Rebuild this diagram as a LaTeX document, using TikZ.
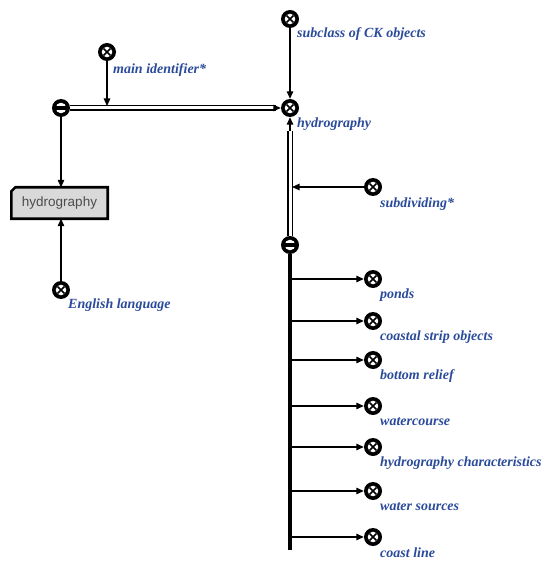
\documentclass[tikz,border=0pt]{standalone}
\usepackage{fontspec}
\setmainfont{Liberation Serif}
\newfontfamily\boxfont{Liberation Sans}
\usetikzlibrary{arrows.meta}
\definecolor{lblue}{HTML}{2A4A9A}
\definecolor{boxgrey}{HTML}{D9D9D9}
\tikzset{
  xnode/.style={circle,fill=black,minimum size=18pt,inner sep=0pt,
    path picture={
      \fill[white] (path picture bounding box.center) circle (5.3pt);
      \draw[black,line width=1.6pt]
        ([shift={(-3.6pt,-3.6pt)}]path picture bounding box.center) --
        ([shift={(3.6pt,3.6pt)}]path picture bounding box.center)
        ([shift={(-3.6pt,3.6pt)}]path picture bounding box.center) --
        ([shift={(3.6pt,-3.6pt)}]path picture bounding box.center);
    }},
  mnode/.style={circle,fill=black,minimum size=18pt,inner sep=0pt,
    path picture={
      \fill[white] (path picture bounding box.center) circle (5.3pt);
      \fill[black] ([shift={(-6pt,-1.6pt)}]path picture bounding box.center)
        rectangle ([shift={(6pt,1.6pt)}]path picture bounding box.center);
    }},
  lbl/.style={anchor=west,text=lblue,font=\bfseries\itshape\fontsize{14}{16}\selectfont,inner sep=0pt},
  arr/.style={-{Triangle[length=7.5pt,width=6.5pt]},line width=1.2pt},
  dbl/.style={double=white,double distance=3pt,line width=1.1pt},
  tip/.style={-{Triangle[length=7.5pt,width=6.5pt]},line width=1.2pt},
  boxtxt/.style={text=black!70,font=\boxfont\fontsize{13.5}{15}\selectfont},
}
\begin{document}
\begin{tikzpicture}[x=1pt,y=-1pt]
\useasboundingbox (0,0) rectangle (545,561);

% nodes
\node[mnode] (lm) at (61,108) {};
\node[xnode] (mi) at (107,52) {};
\node[xnode] (hy) at (290,108) {};
\node[xnode] (sc) at (290,19) {};
\node[xnode] (sd) at (373,187) {};
\node[mnode] (bm) at (290,245) {};
\node[xnode] (en) at (61,290) {};

% box
\node[minimum width=96pt,minimum height=31pt,inner sep=0pt,boxtxt] (box) at (59.5,203) {hydrography};
\fill[boxgrey,draw=black,line width=2.6pt]
  ([xshift=4pt]box.north west) -- (box.north east) -- (box.south east) -- (box.south west) -- ([yshift=-4pt]box.north west) -- cycle;
\node[boxtxt] at (box.center) {hydrography};

% labels
\node[lbl] (lmi) at (113,70) {main identifier*};
\node[lbl] (lsc) at (297,34) {subclass of CK objects};
\node[lbl] (lhy) at (297,124) {hydrography};
\node[lbl] (lsd) at (380,204) {subdividing*};
\node[lbl] (len) at (68,305) {English language};

% double lines
\coordinate (d1) at (276,108);
\draw[dbl] (lm.east) -- (d1);
\draw[tip] (d1) -- (hy.west);
\coordinate (d2) at (290,131);
\draw[dbl] (bm.north) -- (d2);
\draw[tip] (d2) -- (hy.south);

% arrows
\coordinate (mi2) at (107,106);
\draw[arr] (mi.south) -- (mi2);
\draw[arr] (sc.south) -- (hy.north);
\coordinate (sd2) at (292,187);
\draw[arr] (sd.west) -- (sd2);
\draw[arr] (lm.south) -- (lm.south |- box.north);
\draw[arr] (en.north) -- (en.north |- box.south);

% thick trunk
\coordinate (tb) at (290,550);
\draw[line width=3.2pt] (bm.south) -- (tb);

% children
\foreach \n/\y/\t in {c1/279/ponds,c2/321/coastal strip objects,c3/360/bottom relief,c4/406/watercourse,c5/447/hydrography characteristics,c6/491/water sources,c7/537/coast line}{
  \node[xnode] (\n) at (373,\y) {};
  \coordinate (\n b) at (290,\y);
  \draw[arr] (\n b) -- (\n.west);
  \node[lbl] (\n l) at (380,\y+16) {\t};
}
\end{tikzpicture}
\end{document}
